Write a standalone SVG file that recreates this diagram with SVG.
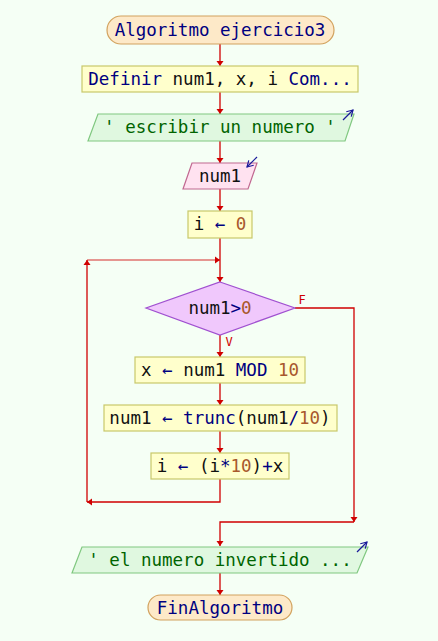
<svg xmlns="http://www.w3.org/2000/svg" width="438" height="641" viewBox="0 0 438 641">
<style>
text{font-family:"DejaVu Sans Mono","Liberation Mono",monospace;font-size:17.5px;text-anchor:middle}
.kw{fill:#000080}.num{fill:#a8582c}.id{fill:#111}.str{fill:#006400}
.term{fill:#fde9c8;stroke:#d2a25e;stroke-width:1.2}
.proc{fill:#ffffcc;stroke:#c8c86a;stroke-width:1.2}
.out{fill:#e0f8e0;stroke:#80c880;stroke-width:1.2}
.inp{fill:#ffe2f0;stroke:#c06890;stroke-width:1.2}
.dec{fill:#f0c8fc;stroke:#a050d0;stroke-width:1.2}
.c{fill:none;stroke:#d00000;stroke-width:1.3}
.lbl{fill:#d00000;font-size:12px}
.ic{stroke:#1a1a9a;stroke-width:1.2;fill:none}
</style>
<defs>
<marker id="a" markerUnits="userSpaceOnUse" markerWidth="8" markerHeight="8" viewBox="0 0 8 8" refX="7" refY="4" orient="auto"><path d="M2,0.5 L7,4 L2,7.5 z" fill="#d00000"/></marker>
<marker id="ai" markerUnits="userSpaceOnUse" markerWidth="8" markerHeight="8" viewBox="0 0 8 8" refX="7" refY="4" orient="auto"><path d="M1,0.5 L7,4 L1,7.5" fill="none" stroke="#1a1a9a" stroke-width="1.2"/></marker>
</defs>
<rect width="438" height="641" fill="#f5fff5"/>
<g id="connectors">
<path class="c" d="M220,44 V66" marker-end="url(#a)"/>
<path class="c" d="M220,92 V114" marker-end="url(#a)"/>
<path class="c" d="M220,141 V163" marker-end="url(#a)"/>
<path class="c" d="M220,189 V211" marker-end="url(#a)"/>
<path class="c" d="M220,238 V282" marker-end="url(#a)"/>
<path class="c" d="M87,260 H220" stroke-opacity="0.55" marker-end="url(#a)"/>
<path class="c" d="M87,502 V260" marker-end="url(#a)"/>
<path class="c" d="M220,335 V357" marker-end="url(#a)"/>
<path class="c" d="M220,383 V405" marker-end="url(#a)"/>
<path class="c" d="M220,431 V453" marker-end="url(#a)"/>
<path class="c" d="M220,479 V502 H87" marker-end="url(#a)"/>
<path class="c" d="M295,308 H354 V522" marker-end="url(#a)"/>
<path class="c" d="M354,522 H220 V546" marker-end="url(#a)"/>
<path class="c" d="M220,573 V595" marker-end="url(#a)"/>
<text class="lbl" x="302" y="304">F</text>
<text class="lbl" x="229" y="346">V</text>
</g>
<g id="start">
<rect class="term" x="107" y="16" width="227" height="28" rx="14"/>
<text x="220" y="36" class="kw">Algoritmo ejercicio3</text>
</g>
<g id="definir">
<rect class="proc" x="82" y="66" width="276" height="26"/>
<text x="220" y="85"><tspan class="kw">Definir</tspan><tspan class="id"> num1, x, i </tspan><tspan class="kw">Com...</tspan></text>
</g>
<g id="escribir1">
<polygon class="out" points="98,114 354,114 345,141 88,141"/>
<text x="220" y="133" class="str">' escribir un numero '</text>
<path class="ic" d="M343,120 L353,110" marker-end="url(#ai)"/>
</g>
<g id="leer">
<polygon class="inp" points="192,163 257,163 248,189 183,189"/>
<text x="220" y="182" class="id">num1</text>
<path class="ic" d="M257,157 L247,167" marker-end="url(#ai)"/>
</g>
<g id="asig_i0">
<rect class="proc" x="188" y="211" width="64" height="27"/>
<text x="220" y="230"><tspan class="id">i </tspan><tspan class="kw">←</tspan><tspan class="num"> 0</tspan></text>
</g>
<g id="mientras">
<polygon class="dec" points="220,282 295,308 220,335 146,308"/>
<text x="220" y="314"><tspan class="id">num1</tspan><tspan class="kw">&gt;</tspan><tspan class="num">0</tspan></text>
</g>
<g id="asig_x">
<rect class="proc" x="135" y="357" width="170" height="26"/>
<text x="220" y="376"><tspan class="id">x </tspan><tspan class="kw">←</tspan><tspan class="id"> num1 </tspan><tspan class="kw">MOD</tspan><tspan class="num"> 10</tspan></text>
</g>
<g id="asig_num1">
<rect class="proc" x="104" y="405" width="233" height="26"/>
<text x="220" y="424"><tspan class="id">num1 </tspan><tspan class="kw">←</tspan><tspan class="kw"> trunc</tspan><tspan class="id">(num1</tspan><tspan class="kw">/</tspan><tspan class="num">10</tspan><tspan class="id">)</tspan></text>
</g>
<g id="asig_i">
<rect class="proc" x="151" y="453" width="138" height="26"/>
<text x="220" y="472"><tspan class="id">i </tspan><tspan class="kw">←</tspan><tspan class="id"> (i</tspan><tspan class="kw">*</tspan><tspan class="num">10</tspan><tspan class="id">)</tspan><tspan class="kw">+</tspan><tspan class="id">x</tspan></text>
</g>
<g id="escribir2">
<polygon class="out" points="82,547 368,547 357,573 72,573"/>
<text x="220" y="566" class="str">' el numero invertido ...</text>
<path class="ic" d="M357,552 L367,542" marker-end="url(#ai)"/>
</g>
<g id="fin">
<rect class="term" x="148" y="595" width="144" height="25" rx="12.5"/>
<text x="220" y="614" class="kw">FinAlgoritmo</text>
</g>
</svg>
